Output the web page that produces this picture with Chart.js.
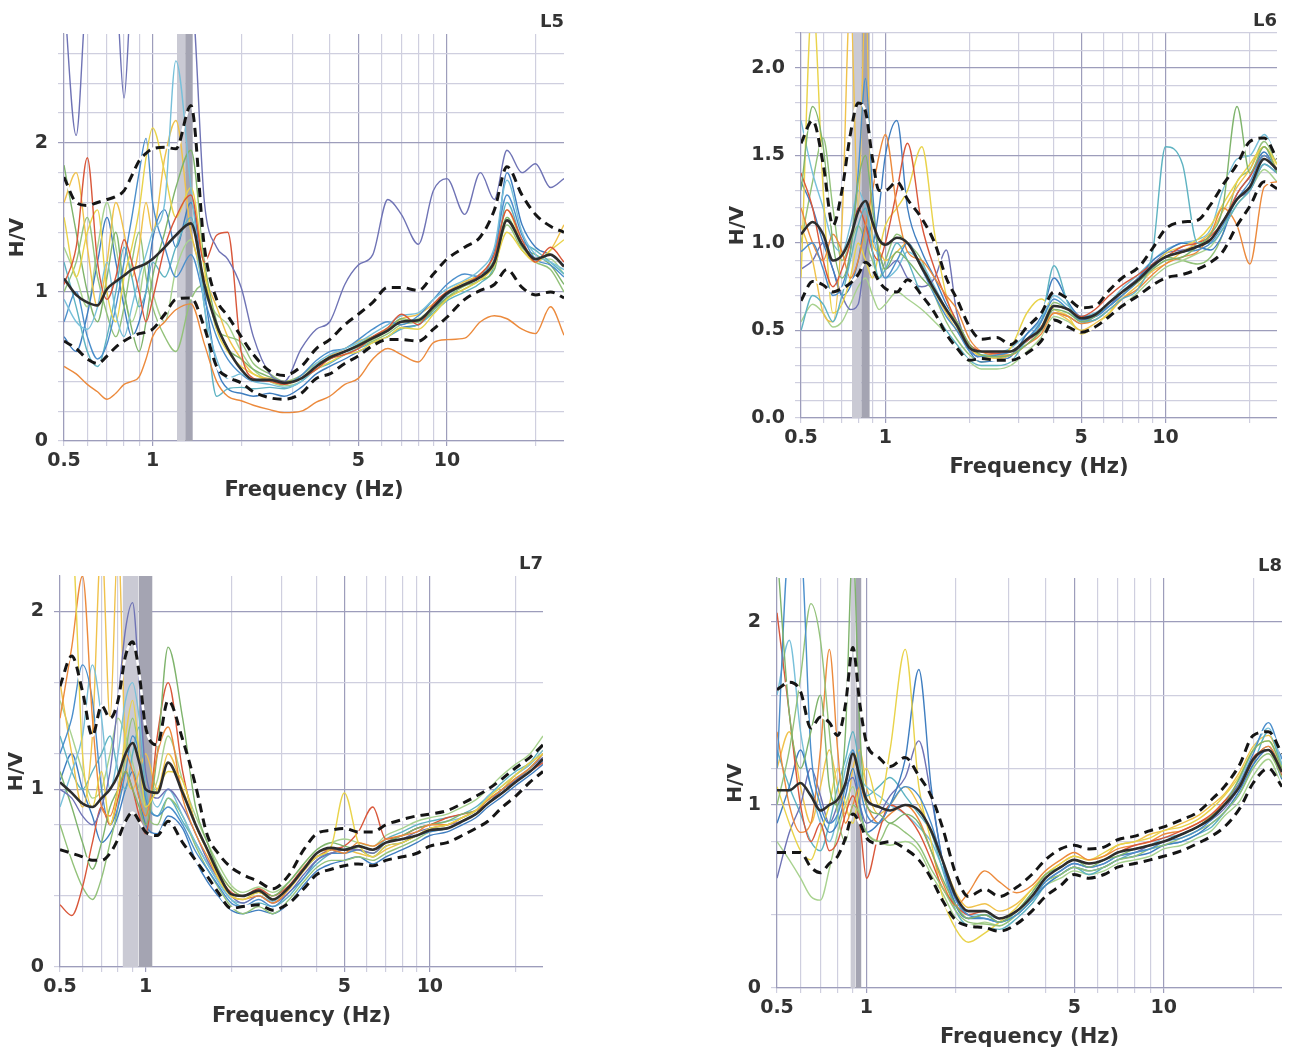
<!DOCTYPE html>
<html>
<head>
<meta charset="utf-8">
<title>H/V curves L5-L8</title>
<script src="https://cdn.jsdelivr.net/npm/chart.js@4.4.1/dist/chart.umd.min.js"></script>
<style>
  html, body { margin: 0; padding: 0; background: #fff; }
  body { width: 1291px; height: 1050px; position: relative; overflow: hidden; }
  canvas { position: absolute; }
</style>
</head>
<body>
<canvas id="l5"></canvas>
<canvas id="l6"></canvas>
<canvas id="l7"></canvas>
<canvas id="l8"></canvas>
<script>
// shared frequency grid (Hz)
const freq = [0.5, 0.55, 0.6, 0.65, 0.7, 0.75, 0.8, 0.85, 0.9, 0.95,
              1.0, 1.1, 1.2, 1.35, 1.5, 1.65, 1.8, 2.0, 2.2, 2.5,
              2.8, 3.2, 3.6, 4.0, 4.5, 5.0, 5.6, 6.3, 7.0, 8.0,
              9.0, 10, 11.5, 13, 14.5, 16, 18, 20, 22.5, 25];

// x grid lines and labelled ticks
const xGrid = [0.5, 0.6, 0.7, 0.8, 0.9, 1, 2, 3, 4, 5, 6, 7, 8, 9, 10, 20];
const xLabels = [0.5, 1, 5, 10];

// ---------- L5 ----------
const l5Mean = [1.09,0.98,0.93,0.91,1.02,1.07,1.11,1.15,1.17,1.19, 1.22,1.30,1.38,1.46,1.05,0.78,0.62,0.48,0.41,0.41, 0.39,0.42,0.50,0.56,0.60,0.64,0.69,0.74,0.80,0.81, 0.90,0.99,1.05,1.10,1.20,1.48,1.32,1.22,1.25,1.17];
const l5Upper = [1.77,1.60,1.58,1.60,1.62,1.64,1.68,1.78,1.88,1.93, 1.96,1.97,1.96,2.25,1.30,0.95,0.84,0.70,0.58,0.47, 0.44,0.50,0.62,0.68,0.78,0.85,0.93,1.03,1.03,1.01, 1.12,1.22,1.30,1.37,1.55,1.84,1.65,1.52,1.44,1.40];
const l5Lower = [0.67,0.62,0.55,0.52,0.57,0.63,0.67,0.70,0.72,0.73, 0.75,0.85,0.95,0.96,0.76,0.50,0.43,0.39,0.33,0.29, 0.28,0.32,0.42,0.45,0.52,0.57,0.64,0.68,0.68,0.67, 0.75,0.83,0.95,1.01,1.05,1.15,1.03,0.98,1.00,0.96];
const l5Curves = [
  [3.00,2.05,3.00,3.00,3.00,3.00,2.30,3.00,3.00,3.00, 3.00,3.00,3.00,3.00,1.60,1.30,1.22,1.03,0.70,0.45, 0.40,0.62,0.75,0.80,1.05,1.18,1.25,1.62,1.52,1.32, 1.68,1.76,1.52,1.80,1.62,1.95,1.80,1.86,1.70,1.76],
  [0.50,0.45,0.38,0.33,0.28,0.32,0.38,0.40,0.43,0.55, 0.70,0.80,0.88,0.92,0.65,0.40,0.30,0.27,0.24,0.21, 0.19,0.20,0.26,0.30,0.38,0.42,0.55,0.62,0.58,0.53, 0.66,0.68,0.69,0.80,0.84,0.82,0.75,0.72,0.90,0.71],
  [1.05,1.30,1.90,1.20,0.95,1.10,1.35,1.20,1.00,0.80, 0.95,1.30,1.50,1.65,1.20,1.38,1.40,0.60,0.42,0.40, 0.38,0.42,0.48,0.55,0.58,0.62,0.70,0.76,0.85,0.78, 0.92,1.00,1.05,1.12,1.25,1.55,1.35,1.20,1.30,1.20],
  [0.95,0.80,0.75,0.90,1.20,0.85,0.70,0.90,1.10,1.25, 1.40,1.60,2.55,1.70,0.90,0.55,0.42,0.45,0.40,0.38, 0.36,0.40,0.52,0.58,0.62,0.66,0.72,0.78,0.84,0.86, 0.95,1.02,1.08,1.15,1.30,1.75,1.40,1.25,1.20,1.15],
  [1.50,1.10,1.40,1.55,1.00,0.80,1.10,1.30,1.55,1.90, 2.10,1.80,1.50,1.70,1.15,0.75,0.60,0.50,0.45,0.40, 0.38,0.42,0.48,0.53,0.58,0.60,0.66,0.70,0.76,0.75, 0.85,0.95,1.02,1.08,1.18,1.40,1.28,1.20,1.28,1.35],
  [0.80,1.00,0.70,0.55,0.65,0.90,1.20,1.50,1.80,2.03, 1.60,1.30,1.10,1.25,0.95,0.70,0.55,0.45,0.40,0.40, 0.38,0.44,0.54,0.60,0.62,0.68,0.75,0.80,0.78,0.84, 0.95,1.05,1.12,1.10,1.28,1.65,1.38,1.22,1.18,1.10],
  [1.85,1.40,1.00,0.80,1.10,1.40,1.00,0.75,0.60,0.80, 1.10,1.40,1.70,1.95,1.20,0.80,0.62,0.55,0.48,0.43, 0.40,0.42,0.50,0.55,0.60,0.65,0.70,0.75,0.82,0.80, 0.88,0.96,1.02,1.08,1.15,1.50,1.30,1.25,1.18,1.05],
  [1.20,0.90,0.60,0.50,0.70,1.00,1.30,1.10,0.90,1.00, 1.20,1.10,1.30,1.50,0.90,0.30,0.35,0.36,0.35,0.36, 0.35,0.40,0.48,0.52,0.58,0.62,0.66,0.70,0.75,0.78, 0.86,0.94,1.00,1.06,1.18,1.60,1.35,1.28,1.20,1.12],
  [1.60,1.80,1.30,0.90,1.20,1.60,1.40,1.10,1.30,1.60, 1.40,1.90,2.15,1.40,1.10,0.90,0.70,0.55,0.45,0.42, 0.40,0.42,0.50,0.57,0.62,0.67,0.70,0.76,0.82,0.85, 0.92,1.00,1.07,1.12,1.25,1.55,1.32,1.20,1.28,1.45],
  [1.00,1.20,1.50,1.10,0.85,0.70,0.90,1.20,1.40,1.10, 0.90,0.70,0.60,0.95,1.05,0.75,0.70,0.66,0.52,0.45, 0.40,0.44,0.52,0.55,0.60,0.63,0.67,0.72,0.78,0.80, 0.86,0.96,1.04,1.08,1.20,1.45,1.28,1.20,1.15,1.00],
  [0.70,0.60,0.85,1.20,1.50,1.20,0.90,0.70,0.80,1.00, 1.35,1.55,1.30,1.60,1.00,0.50,0.35,0.32,0.30,0.32, 0.30,0.36,0.45,0.50,0.55,0.60,0.64,0.70,0.76,0.78, 0.88,0.98,1.05,1.12,1.22,1.80,1.45,1.30,1.25,1.18],
  [1.30,1.10,0.90,1.30,1.60,1.30,1.00,0.80,0.95,1.20, 1.00,0.80,1.15,1.35,1.00,0.85,0.78,0.60,0.48,0.40, 0.37,0.40,0.50,0.56,0.60,0.64,0.68,0.74,0.80,0.82, 0.90,0.98,1.06,1.12,1.22,1.50,1.30,1.22,1.22,1.12]
];
const l5Colors = ['#6f73b5','#ec8a3c','#d9573a','#78c0da','#e9d34a','#4b8fcc','#7fb46c','#5eb3c2','#f0c24b','#93c27a','#3f7ec0','#a8d28f'];
const l5Band = [1.21, 1.29, 1.37];
const l5YGrid = [0,0.2,0.4,0.6,0.8,1,1.2,1.4,1.6,1.8,2,2.2,2.4,2.6];
const l5YLabels = [0, 1, 2];

// ---------- L6 ----------
const l6Mean = [1.05,1.12,1.05,0.90,0.93,1.03,1.18,1.24,1.12,1.02, 0.99,1.03,1.00,0.86,0.73,0.62,0.53,0.40,0.38,0.38, 0.38,0.45,0.51,0.64,0.62,0.57,0.59,0.66,0.72,0.79, 0.87,0.92,0.95,0.98,1.02,1.12,1.25,1.32,1.48,1.42];
const l6Upper = [1.57,1.70,1.45,1.10,1.30,1.62,1.80,1.75,1.48,1.30, 1.30,1.35,1.25,1.14,1.00,0.80,0.68,0.52,0.45,0.46, 0.42,0.52,0.60,0.72,0.68,0.63,0.64,0.73,0.80,0.86, 0.97,1.08,1.12,1.13,1.22,1.33,1.45,1.58,1.60,1.48];
const l6Lower = [0.67,0.78,0.76,0.72,0.74,0.77,0.82,0.89,0.85,0.78, 0.74,0.72,0.79,0.70,0.60,0.48,0.40,0.33,0.34,0.33, 0.33,0.37,0.44,0.56,0.52,0.49,0.52,0.58,0.64,0.70, 0.76,0.80,0.82,0.85,0.89,0.95,1.10,1.21,1.35,1.31];
const l6Curves = [
  [1.30,1.78,1.55,1.00,0.80,0.95,1.35,1.50,1.20,0.95, 0.85,0.95,0.90,0.80,0.72,0.62,0.55,0.42,0.36,0.35, 0.36,0.42,0.50,0.62,0.60,0.55,0.58,0.66,0.72,0.78, 0.85,0.90,0.92,0.98,1.05,1.20,1.78,1.40,1.55,1.40],
  [0.95,1.00,0.85,0.70,0.75,0.95,1.40,1.94,1.30,0.90, 0.80,0.90,1.00,0.85,0.70,0.58,0.50,0.38,0.35,0.36, 0.38,0.45,0.55,0.68,0.62,0.56,0.58,0.64,0.70,0.78, 0.86,0.92,0.95,0.96,1.00,1.10,1.25,1.35,1.50,1.42],
  [0.50,0.70,0.65,0.55,0.70,0.90,1.10,1.20,0.95,0.80, 0.85,1.00,0.90,0.70,0.60,0.50,0.42,0.33,0.30,0.30, 0.32,0.45,0.55,0.87,0.65,0.55,0.56,0.62,0.68,0.74, 0.95,1.55,1.45,1.00,1.00,1.08,1.22,1.30,1.45,1.40],
  [1.20,1.00,0.90,1.05,0.95,0.80,0.90,1.10,1.30,1.50, 1.62,1.20,0.95,0.90,0.80,0.70,0.62,0.45,0.38,0.36, 0.36,0.42,0.48,0.60,0.58,0.54,0.56,0.62,0.68,0.74, 0.82,0.88,0.92,0.95,1.05,1.20,1.10,0.88,1.32,1.35],
  [1.40,1.20,0.90,0.75,0.85,1.00,1.20,1.10,0.95,0.90, 1.00,1.30,1.57,1.10,0.85,0.68,0.55,0.42,0.38,0.37, 0.38,0.44,0.52,0.64,0.62,0.58,0.62,0.70,0.76,0.82, 0.88,0.92,0.98,1.00,1.04,1.12,1.28,1.38,1.50,1.42],
  [0.80,2.40,1.30,0.60,0.65,0.80,1.00,0.90,0.80,0.95, 1.10,1.20,1.30,1.55,1.05,0.70,0.52,0.40,0.36,0.35, 0.40,0.60,0.68,0.62,0.58,0.48,0.52,0.60,0.70,0.78, 0.86,0.94,0.98,1.02,1.10,1.22,1.35,1.45,1.55,1.45],
  [1.10,0.90,0.60,0.55,1.10,2.40,1.20,2.40,1.00,0.95, 0.90,0.95,1.00,0.85,0.72,0.60,0.50,0.40,0.35,0.34, 0.36,0.42,0.50,0.60,0.56,0.50,0.54,0.60,0.68,0.76, 0.84,0.88,0.95,1.00,1.06,1.18,1.32,1.42,1.55,1.42],
  [1.35,1.20,1.00,0.85,0.70,0.75,0.90,1.10,1.00,1.20, 1.50,1.70,1.20,0.95,0.80,0.65,0.55,0.38,0.32,0.33, 0.35,0.48,0.58,0.80,0.66,0.58,0.58,0.64,0.70,0.80, 0.90,0.95,1.00,0.98,0.96,1.05,1.28,1.38,1.52,1.40],
  [0.85,0.90,1.00,0.85,0.70,0.62,0.65,0.95,1.10,0.95, 0.85,0.90,0.80,0.75,0.80,0.96,0.60,0.40,0.34,0.34, 0.36,0.44,0.50,0.60,0.58,0.54,0.58,0.64,0.72,0.80, 0.88,0.94,0.96,0.98,1.02,1.12,1.25,1.30,1.45,1.40],
  [0.55,0.65,0.60,0.52,0.55,0.65,0.75,0.80,0.70,0.62, 0.65,0.72,0.68,0.62,0.55,0.48,0.40,0.32,0.28,0.28, 0.30,0.38,0.46,0.58,0.55,0.50,0.52,0.58,0.64,0.72, 0.80,0.86,0.90,0.94,0.98,1.08,1.22,1.30,1.42,1.35],
  [1.70,1.40,1.20,1.00,0.95,1.10,1.30,1.20,1.05,0.90, 0.80,0.85,0.95,0.88,0.75,0.62,0.52,0.40,0.36,0.37, 0.40,0.48,0.56,0.70,0.64,0.58,0.60,0.66,0.74,0.82, 0.90,0.96,1.00,1.02,1.08,1.30,1.48,1.50,1.62,1.48],
  [1.00,1.35,1.60,1.20,0.90,1.00,1.10,1.00,0.90,0.80, 0.90,1.05,1.00,0.90,0.70,0.55,0.45,0.36,0.32,0.34, 0.36,0.44,0.52,0.66,0.62,0.56,0.58,0.66,0.72,0.80, 0.86,0.92,0.90,0.88,0.92,1.05,1.35,1.42,1.58,1.45]
];
const l6Colors = ['#7fb46c','#4b8fcc','#5eb3c2','#ec8a3c','#d9573a','#e9d34a','#f0c24b','#3f7ec0','#6f73b5','#a8d28f','#78c0da','#93c27a'];
const l6Band = [0.76, 0.82, 0.88];
const l6YGrid = [0,0.1,0.2,0.3,0.4,0.5,0.6,0.7,0.8,0.9,1,1.1,1.2,1.3,1.4,1.5,1.6,1.7,1.8,1.9,2,2.1,2.2];
const l6YLabels = [0, 0.5, 1, 1.5, 2];

// ---------- L7 ----------
const l7Mean = [1.04,0.98,0.92,0.90,0.95,1.00,1.08,1.20,1.26,1.15, 1.00,0.98,1.15,0.98,0.80,0.66,0.53,0.41,0.40,0.43, 0.38,0.45,0.55,0.64,0.67,0.66,0.68,0.66,0.70,0.72, 0.74,0.77,0.78,0.82,0.86,0.92,0.98,1.04,1.10,1.17];
const l7Upper = [1.58,1.75,1.55,1.30,1.47,1.40,1.50,1.75,1.83,1.65, 1.35,1.25,1.50,1.28,1.02,0.74,0.64,0.56,0.52,0.48, 0.44,0.52,0.66,0.75,0.77,0.78,0.76,0.76,0.80,0.83, 0.85,0.86,0.88,0.92,0.96,1.00,1.06,1.12,1.18,1.25];
const l7Lower = [0.66,0.64,0.62,0.60,0.60,0.64,0.72,0.82,0.87,0.82, 0.76,0.74,0.82,0.70,0.60,0.51,0.42,0.33,0.34,0.35, 0.32,0.36,0.44,0.52,0.55,0.57,0.58,0.57,0.60,0.62, 0.64,0.68,0.70,0.74,0.78,0.82,0.90,0.96,1.04,1.10];
const l7Curves = [
  [2.40,2.40,1.20,0.90,1.10,0.80,1.00,1.30,1.50,1.20, 0.90,1.00,1.10,1.05,0.80,0.65,0.50,0.40,0.38,0.42, 0.38,0.44,0.55,0.62,0.68,0.98,0.70,0.62,0.68,0.70, 0.74,0.78,0.80,0.84,0.88,0.95,1.02,1.08,1.15,1.20],
  [1.40,1.80,2.20,1.40,0.90,0.85,1.00,1.20,1.10,0.95, 0.85,1.20,1.35,0.95,0.75,0.62,0.50,0.40,0.38,0.40, 0.36,0.44,0.56,0.64,0.66,0.64,0.70,0.68,0.72,0.74, 0.76,0.80,0.80,0.84,0.88,0.94,1.00,1.06,1.12,1.20],
  [1.00,0.95,0.85,0.80,0.90,1.10,1.50,1.90,2.05,1.60, 1.10,0.95,1.00,0.90,0.75,0.60,0.50,0.40,0.36,0.40, 0.36,0.42,0.52,0.60,0.64,0.66,0.66,0.64,0.70,0.72, 0.76,0.78,0.80,0.82,0.86,0.92,1.00,1.05,1.12,1.18],
  [1.10,0.90,0.70,0.55,0.70,0.90,1.00,1.10,1.00,0.90, 0.80,1.20,1.80,1.40,0.90,0.70,0.55,0.44,0.40,0.42, 0.40,0.48,0.58,0.66,0.70,0.68,0.66,0.64,0.70,0.74, 0.78,0.80,0.82,0.86,0.88,0.94,1.00,1.06,1.12,1.20],
  [0.35,0.29,0.45,0.70,0.90,0.80,0.95,1.10,1.00,0.85, 0.75,1.30,1.60,1.10,0.80,0.66,0.52,0.42,0.40,0.44, 0.40,0.46,0.56,0.62,0.66,0.68,0.76,0.90,0.72,0.74, 0.78,0.80,0.84,0.86,0.88,0.92,0.98,1.04,1.10,1.15],
  [1.20,1.40,1.70,1.50,1.00,0.80,0.90,1.10,1.30,1.20, 0.95,0.85,0.90,0.80,0.65,0.55,0.46,0.36,0.34,0.38, 0.34,0.42,0.50,0.60,0.64,0.64,0.66,0.62,0.68,0.70, 0.74,0.76,0.78,0.82,0.86,0.92,1.00,1.04,1.10,1.16],
  [0.90,1.10,1.30,1.70,1.40,1.00,1.20,1.50,1.60,1.40, 1.10,0.90,1.00,0.85,0.70,0.58,0.48,0.38,0.36,0.40, 0.37,0.45,0.55,0.62,0.66,0.66,0.68,0.66,0.70,0.74, 0.78,0.80,0.82,0.84,0.88,0.96,1.02,1.08,1.14,1.22],
  [0.80,0.60,0.45,0.38,0.50,0.70,0.90,1.20,1.40,1.20, 0.90,0.80,0.95,0.85,0.68,0.55,0.45,0.34,0.30,0.34, 0.30,0.38,0.48,0.56,0.60,0.60,0.62,0.60,0.64,0.68, 0.72,0.76,0.78,0.82,0.86,0.92,0.98,1.04,1.12,1.20],
  [1.60,1.20,0.90,1.30,2.40,1.40,2.40,1.20,1.00,1.10, 1.20,1.00,1.20,1.00,0.80,0.66,0.54,0.44,0.40,0.42, 0.38,0.44,0.54,0.62,0.64,0.66,0.64,0.62,0.66,0.70, 0.74,0.78,0.80,0.84,0.88,0.94,1.00,1.08,1.14,1.22],
  [1.30,1.10,1.00,1.10,1.20,1.30,1.10,1.00,1.20,1.35, 1.00,0.85,0.95,0.82,0.70,0.58,0.48,0.38,0.34,0.36, 0.34,0.40,0.50,0.58,0.64,0.66,0.68,0.66,0.72,0.76, 0.80,0.82,0.84,0.86,0.90,0.96,1.04,1.10,1.15,1.25],
  [1.05,1.20,1.00,0.85,0.70,0.75,0.85,1.00,1.10,0.95, 0.80,0.75,0.85,0.78,0.60,0.48,0.40,0.32,0.30,0.32, 0.30,0.36,0.46,0.54,0.58,0.60,0.62,0.58,0.62,0.66, 0.70,0.74,0.76,0.80,0.84,0.90,0.96,1.02,1.08,1.14],
  [1.50,1.30,1.10,0.95,1.00,1.20,1.40,1.30,1.15,1.00, 0.90,1.05,1.30,1.05,0.85,0.70,0.58,0.46,0.42,0.45, 0.42,0.48,0.58,0.66,0.70,0.72,0.70,0.68,0.74,0.78, 0.82,0.84,0.86,0.90,0.94,1.00,1.08,1.14,1.20,1.30]
];
const l7Colors = ['#e9d34a','#ec8a3c','#6f73b5','#7fb46c','#d9573a','#4b8fcc','#78c0da','#93c27a','#f0c24b','#5eb3c2','#3f7ec0','#a8d28f'];
const l7Band = [0.83, 0.945, 1.058];
const l7YGrid = [0, 0.4, 0.8, 1, 1.2, 1.6, 2];
const l7YLabels = [0, 1, 2];

// ---------- L8 ----------
const l8Mean = [1.08,1.08,1.12,1.05,0.97,1.00,1.03,1.12,1.28,1.15, 1.03,0.99,0.97,1.00,0.97,0.86,0.70,0.50,0.42,0.42, 0.38,0.42,0.50,0.60,0.66,0.70,0.68,0.70,0.74,0.76, 0.78,0.80,0.84,0.88,0.93,1.00,1.10,1.25,1.30,1.18];
const l8Upper = [1.63,1.67,1.62,1.42,1.48,1.45,1.38,1.55,1.86,1.55, 1.34,1.26,1.21,1.26,1.16,1.05,0.88,0.62,0.50,0.54, 0.50,0.55,0.62,0.70,0.76,0.78,0.76,0.77,0.81,0.83, 0.86,0.88,0.92,0.96,1.03,1.10,1.22,1.38,1.40,1.28];
const l8Lower = [0.74,0.74,0.74,0.66,0.63,0.68,0.72,0.82,0.95,0.90, 0.82,0.79,0.80,0.76,0.70,0.60,0.48,0.37,0.34,0.33, 0.31,0.35,0.42,0.50,0.56,0.62,0.60,0.62,0.66,0.68, 0.70,0.72,0.75,0.79,0.83,0.88,0.98,1.12,1.20,1.10];
const l8Curves = [
  [2.40,1.50,1.20,1.40,1.60,1.10,1.00,1.40,2.40,1.40, 1.00,0.95,0.90,0.95,0.90,0.75,0.60,0.45,0.38,0.40, 0.36,0.42,0.52,0.62,0.66,0.70,0.66,0.70,0.72,0.76, 0.78,0.80,0.84,0.88,0.94,1.00,1.15,1.30,1.35,1.20],
  [1.20,2.40,2.40,1.30,1.00,0.90,0.95,1.10,1.30,1.10, 0.95,0.90,1.00,1.10,1.05,0.90,0.70,0.48,0.40,0.38, 0.36,0.40,0.48,0.58,0.64,0.68,0.66,0.68,0.72,0.74, 0.76,0.80,0.82,0.86,0.92,1.00,1.12,1.28,1.45,1.25],
  [1.00,1.30,1.70,2.10,1.90,1.40,0.95,0.80,1.00,0.95, 0.85,0.80,0.90,0.85,0.78,0.65,0.55,0.42,0.36,0.35, 0.34,0.40,0.48,0.58,0.62,0.66,0.64,0.66,0.70,0.72, 0.76,0.78,0.82,0.86,0.90,0.96,1.06,1.20,1.28,1.15],
  [2.05,1.50,1.00,0.80,0.90,0.75,0.80,0.95,1.05,0.90, 0.60,0.85,1.00,0.95,0.85,0.70,0.55,0.45,0.40,0.42, 0.38,0.42,0.50,0.60,0.66,0.70,0.68,0.70,0.74,0.78, 0.80,0.82,0.86,0.90,0.95,1.02,1.12,1.26,1.30,1.16],
  [1.40,1.00,0.85,0.90,1.30,1.85,1.30,0.90,1.00,1.10, 1.00,0.90,0.95,1.00,0.92,0.75,0.58,0.45,0.52,0.64, 0.58,0.52,0.56,0.64,0.70,0.74,0.70,0.72,0.76,0.78, 0.80,0.84,0.86,0.90,0.94,1.02,1.10,1.24,1.32,1.18],
  [1.10,0.90,0.75,0.70,0.85,1.00,1.20,1.00,0.90,1.10, 1.20,1.00,1.30,1.85,1.10,0.80,0.50,0.32,0.25,0.30, 0.36,0.44,0.54,0.62,0.68,0.72,0.70,0.74,0.78,0.80, 0.82,0.86,0.88,0.92,0.98,1.05,1.16,1.30,1.35,1.20],
  [0.90,1.10,1.30,1.10,0.95,0.85,0.90,1.05,1.20,1.00, 0.85,0.90,1.00,1.25,1.74,1.10,0.70,0.45,0.38,0.38, 0.36,0.40,0.48,0.56,0.62,0.66,0.64,0.66,0.70,0.72, 0.74,0.78,0.80,0.84,0.90,0.96,1.08,1.22,1.30,1.14],
  [0.60,0.85,1.00,1.20,1.05,0.90,1.00,1.10,1.15,1.00, 0.90,0.95,1.05,1.15,1.35,1.05,0.70,0.45,0.38,0.40, 0.36,0.42,0.50,0.58,0.64,0.68,0.66,0.68,0.72,0.74, 0.78,0.80,0.84,0.88,0.92,0.98,1.10,1.24,1.32,1.18],
  [1.30,1.10,0.95,0.80,0.75,0.90,1.10,1.25,1.40,1.20, 1.05,1.10,1.15,1.05,0.95,0.85,0.65,0.42,0.34,0.33, 0.32,0.38,0.46,0.56,0.62,0.66,0.62,0.66,0.70,0.74, 0.76,0.78,0.80,0.84,0.88,0.96,1.06,1.22,1.40,1.20],
  [0.80,0.70,0.60,0.50,0.48,0.65,0.85,1.00,1.10,0.95, 0.85,0.80,0.78,0.80,0.75,0.62,0.52,0.38,0.34,0.36, 0.34,0.40,0.48,0.56,0.60,0.64,0.62,0.64,0.68,0.70, 0.72,0.76,0.78,0.82,0.86,0.94,1.02,1.16,1.25,1.10],
  [1.60,1.90,1.40,1.10,0.90,0.80,0.95,1.20,1.30,1.15, 1.10,1.05,1.00,0.95,0.88,0.80,0.66,0.48,0.40,0.40, 0.38,0.42,0.52,0.62,0.66,0.70,0.68,0.70,0.74,0.76, 0.78,0.82,0.84,0.88,0.94,1.02,1.14,1.30,1.42,1.22],
  [1.20,1.40,1.10,0.90,1.10,1.30,1.10,0.95,1.20,1.30, 1.10,0.95,1.00,1.10,1.00,0.85,0.70,0.52,0.44,0.46, 0.42,0.46,0.54,0.62,0.68,0.72,0.70,0.72,0.78,0.80, 0.84,0.86,0.90,0.94,1.00,1.06,1.18,1.32,1.38,1.22]
];
const l8Colors = ['#7fb46c','#4b8fcc','#93c27a','#d9573a','#ec8a3c','#e9d34a','#3f7ec0','#6f73b5','#5eb3c2','#a8d28f','#78c0da','#f0c24b'];
const l8Band = [0.883, 0.918, 0.962];
const l8YGrid = [0, 0.4, 0.8, 1, 1.2, 1.6, 2];
const l8YLabels = [0, 1, 2];

// ---------- drawing ----------
const FONT = 'DejaVu Sans';
const minorGrid = '#cfcfdf';
const majorGrid = '#9d9dbb';
const textColor = '#333';

function series(vals) {
    return freq.map((f, i) => ({ x: f, y: vals[i] }));
}
function has(list, v) {
    return list.some(u => Math.abs(u - v) < 1e-9);
}

function makePanel(id, box, p) {
    const canvas = document.getElementById(id);
    const left = box.titleX - 10;
    const top = box.T - 30;
    const width = box.R - left;
    const height = box.B + 60 - top;
    canvas.width = width;
    canvas.height = height;
    canvas.style.left = left + 'px';
    canvas.style.top = top + 'px';
    canvas.style.width = width + 'px';
    canvas.style.height = height + 'px';
    const axisW = box.L - left;

    const datasets = [
        { data: series(p.mean), borderColor: '#2d2d2d', borderWidth: 2.6, order: 0 },
        { data: series(p.upper), borderColor: '#151515', borderWidth: 3, borderDash: [9, 6], order: 1 },
        { data: series(p.lower), borderColor: '#151515', borderWidth: 3, borderDash: [9, 6], order: 1 },
        { data: series(p.upper), borderColor: '#ffffff', borderWidth: 2.5, order: 2 },
        { data: series(p.lower), borderColor: '#ffffff', borderWidth: 2.5, order: 2 }
    ];
    p.curves.forEach((c, k) => {
        datasets.push({ data: series(c), borderColor: p.colors[k], borderWidth: 1.4, order: 3 });
    });
    // peak-frequency band: light part then dark part, filled down to 0
    datasets.push({ data: [{ x: p.band[0], y: p.ymax }, { x: p.band[1], y: p.ymax }],
        fill: 'origin', backgroundColor: '#cacad4', borderWidth: 0, order: 4 });
    datasets.push({ data: [{ x: p.band[1], y: p.ymax }, { x: p.band[2], y: p.ymax }],
        fill: 'origin', backgroundColor: '#a4a4b2', borderWidth: 0, order: 4 });

    return new Chart(canvas, {
        type: 'line',
        data: { datasets },
        options: {
            responsive: false,
            animation: false,
            devicePixelRatio: 1,
            events: [],
            layout: { padding: 0 },
            elements: {
                point: { radius: 0 },
                line: { cubicInterpolationMode: 'monotone', fill: false }
            },
            plugins: {
                legend: { display: false },
                tooltip: { enabled: false },
                title: {
                    display: true, text: p.name, align: 'end', color: textColor,
                    font: { family: FONT, size: 18, weight: 'bold', lineHeight: 1 },
                    padding: { top: 9, bottom: 3 }
                }
            },
            scales: {
                x: {
                    type: 'logarithmic', min: 0.5, max: 25, bounds: 'data',
                    afterBuildTicks: s => { s.ticks = xGrid.map(v => ({ value: v })); },
                    afterFit: s => { s.height = 60; s.paddingLeft = 0; s.paddingRight = 0; },
                    grid: {
                        color: c => (c.tick && has([1, 5, 10], c.tick.value)) ? majorGrid : minorGrid,
                        lineWidth: 1.2,
                        tickLength: 5
                    },
                    border: { color: majorGrid, width: 1.2 },
                    ticks: {
                        autoSkip: false, maxRotation: 0, padding: 4, color: textColor,
                        font: { family: FONT, size: 19, weight: 'bold' },
                        callback: v => has(xLabels, v) ? String(v) : ''
                    },
                    title: {
                        display: true, text: 'Frequency (Hz)', color: textColor, padding: 0,
                        font: { family: FONT, size: 21, weight: 'bold', lineHeight: 1 }
                    }
                },
                y: {
                    min: 0, max: p.ymax, bounds: 'data',
                    afterBuildTicks: s => { s.ticks = p.yGrid.map(v => ({ value: v })); },
                    afterFit: s => { s.width = axisW; s.paddingTop = 0; s.paddingBottom = 0; },
                    grid: {
                        color: c => (c.tick && has(p.yLabels, c.tick.value) && c.tick.value > 0) ? majorGrid : minorGrid,
                        lineWidth: 1.2,
                        tickLength: 6
                    },
                    border: { color: majorGrid, width: 1.2 },
                    ticks: {
                        autoSkip: false, padding: 10, color: textColor,
                        font: { family: FONT, size: 19, weight: 'bold' },
                        callback: v => has(p.yLabels, v) ? (p.decimals ? v.toFixed(1) : String(v)) : ''
                    },
                    title: {
                        display: true, text: 'H/V', color: textColor, padding: 0,
                        font: { family: FONT, size: 20, weight: 'bold', lineHeight: 1 }
                    }
                }
            }
        }
    });
}

makePanel('l5', { L: 64, T: 34, R: 564, B: 441, titleX: 18 },
    { name: 'L5', mean: l5Mean, upper: l5Upper, lower: l5Lower, curves: l5Curves, colors: l5Colors,
      band: l5Band, ymax: 2.73, yGrid: l5YGrid, yLabels: l5YLabels, decimals: false });
makePanel('l6', { L: 801, T: 33, R: 1277, B: 418, titleX: 738 },
    { name: 'L6', mean: l6Mean, upper: l6Upper, lower: l6Lower, curves: l6Curves, colors: l6Colors,
      band: l6Band, ymax: 2.2, yGrid: l6YGrid, yLabels: l6YLabels, decimals: true });
makePanel('l7', { L: 60, T: 576, R: 543, B: 967, titleX: 17 },
    { name: 'L7', mean: l7Mean, upper: l7Upper, lower: l7Lower, curves: l7Curves, colors: l7Colors,
      band: l7Band, ymax: 2.2, yGrid: l7YGrid, yLabels: l7YLabels, decimals: false });
makePanel('l8', { L: 777, T: 578, R: 1282, B: 988, titleX: 736 },
    { name: 'L8', mean: l8Mean, upper: l8Upper, lower: l8Lower, curves: l8Curves, colors: l8Colors,
      band: l8Band, ymax: 2.24, yGrid: l8YGrid, yLabels: l8YLabels, decimals: false });
</script>
</body>
</html>
